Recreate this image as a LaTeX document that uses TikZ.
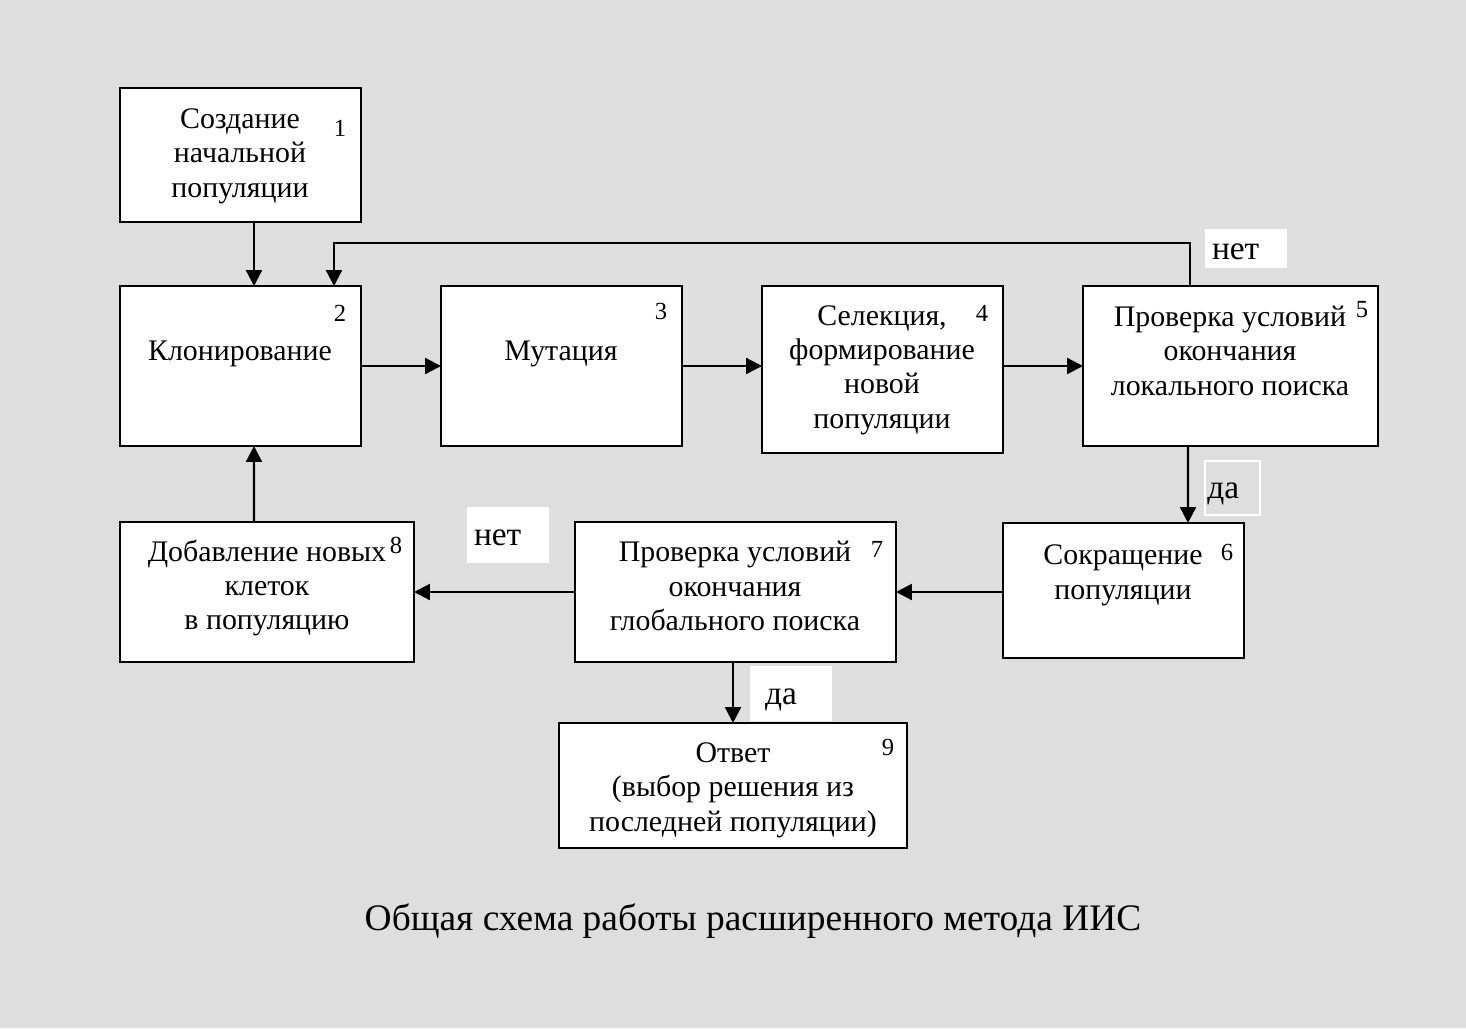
\documentclass[tikz,border=0pt]{standalone}
\usepackage{fontspec}
\setmainfont{Liberation Serif}
\usetikzlibrary{arrows.meta, calc}

\begin{document}
\begin{tikzpicture}[
    x=0.02cm, y=-0.02cm,
    every node/.style={font=\rmfamily\fontsize{17}{19.6}\selectfont},
]

% ---------------------------------------------------------------- colours
\definecolor{bgcolor}{HTML}{DEDEDE}   % page
\definecolor{linecolor}{HTML}{000000} % boxes and arrows

% ---------------------------------------------------------------- styles
\tikzset{
    block/.style 2 args={
        rectangle, draw=linecolor, line width=1.2pt, fill=white,
        inner sep=0pt, outer sep=0pt,
        minimum width=#1*0.02cm, minimum height=#2*0.02cm,
    },
    btext/.style={align=center, inner sep=0pt},
    bnum/.style={font=\rmfamily\fontsize{14}{16}\selectfont, inner sep=0pt},
    % patch behind a yes / no word: width, height, left padding, word
    tag/.style n args={4}{
        rectangle, fill=white, inner sep=0pt,
        minimum width=#1*0.02cm, minimum height=#2*0.02cm,
        label={[anchor=west, inner xsep=#3*0.02cm, inner ysep=0pt,
                text height=13pt, text depth=1pt,
                font=\rmfamily\fontsize{19}{21}\selectfont]west:#4},
    },
    flow/.style={-{Triangle[length=9pt, width=9pt]}, line width=1.3pt,
        draw=linecolor},
}

% background and page size
\fill[bgcolor] (0,0) rectangle (1466,1028);
\useasboundingbox (0,0) rectangle (1466,1028);

% ================================================================
% GEOMETRY (pixels, y downwards)
%   top row     y = 286 .. 446   boxes 2, 3, 4, 5
%   bottom row  y = 522 .. 662   boxes 8, 7, 6
%   answer      y = 723 .. 848
% ================================================================

% ---------------------------------------------------------------- boxes
\node[block={241}{134}] (b1) at (240.5, 155) {};
\node[block={241}{160}] (b2) at (240.5, 366) {};
\node[block={241}{160}] (b3) at (561.5, 366) {};
\node[block={241}{167}] (b4) at (882.5, 369.5) {};
\node[block={295}{160}] (b5) at (1230.5, 366) {};
\node[block={241}{135}] (b6) at (1123.5, 590.5) {};
\node[block={321}{140}] (b7) at (735.5, 592) {};
\node[block={294}{140}] (b8) at (267, 592) {};
\node[block={348}{125}] (b9) at (733, 785.5) {};

% ---------------------------------------------------------------- texts
\node[btext] (t1) at (240, 156) {Создание\\начальной\\популяции};
\node[btext] (t2) at (240, 354) {Клонирование};
\node[btext] (t3) at (561, 354) {Мутация};
\node[btext] (t4) at (882, 370) {Селекция,\\формирование\\новой\\популяции};
\node[btext] (t5) at (1230, 350.5) {Проверка условий\\окончания\\локального поиска};
\node[btext] (t6) at (1123, 575.5) {Сокращение\\популяции};
\node[btext] (t7) at (735, 586) {Проверка условий\\окончания\\глобального поиска};
\node[btext] (t8) at (267, 588) {Добавление новых\\клеток\\в популяцию};
\node[btext] (t9) at (733, 790) {Ответ\\(выбор решения из\\последней популяции)};

% ---------------------------------------------------------------- numbers
\foreach \x/\y/\n in {340/128/1, 340/313/2, 661/311/3, 982/313/4, 1362/310/5,
                      1227/552/6, 877/549/7, 396/545/8, 888/747/9} {
    \node[bnum] (n\n) at (\x, \y) {\n};
}

% ---------------------------------------------------------------- arrows
\draw[flow] ($(b1.south)+(13.5,0)$) -- ($(b2.north)+(13.5,0)$);
\draw[flow] ($(b5.north)+(-40.5,0)$) -- ++(0,-43) -| ($(b2.north)+(93.5,0)$);
\draw[flow] (b2.east) -- (b3.west);
\draw[flow] (b3.east) -- (b3.east -| b4.west);
\draw[flow] (b5.west -| b4.east) -- (b5.west);
\draw[flow] ($(b5.south)+(-42.5,0)$) -- ($(b6.north)+(64.5,0)$);
\draw[flow] (b7.east -| b6.west) -- (b7.east);
\draw[flow] (b7.west) -- (b8.east);
\draw[flow] ($(b8.north)+(-13,0)$) -- ($(b2.south)+(13.5,0)$);
\draw[flow] (b9.north |- b7.south) -- (b9.north);

% ---------------------------------------------------------------- yes / no
\node[tag={82}{39}{7}{нет}] (no1) at (1246, 248.5) {};
\node[tag={55}{54}{3}{да}, fill=bgcolor, draw=white, line width=1pt] (yes1)
    at (1232.5, 488) {};
\node[tag={82}{56}{7}{нет}] (no2) at (508, 535) {};
\node[tag={82}{55}{15}{да}] (yes2) at (791, 693.5) {};

% ---------------------------------------------------------------- caption
\node[font=\rmfamily\fontsize{21.3}{25}\selectfont] (cap) at (753, 921)
    {Общая схема работы расширенного метода ИИС};

\end{tikzpicture}
\end{document}
